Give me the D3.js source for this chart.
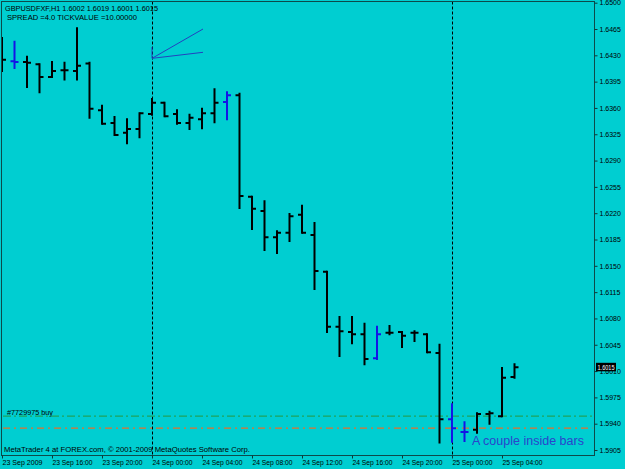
<!DOCTYPE html>
<html>
<head>
<meta charset="utf-8">
<script src="https://cdn.jsdelivr.net/npm/d3@7"></script>
<style>
  body { margin: 0; background: #00ced1; }
  text { font-family: "Liberation Sans", Arial, sans-serif; }
</style>
</head>
<body>
<div id="chart"></div>
<script>
// GBPUSD H1 bars, 23 Sep 12:00 .. 25 Sep 05:00
var openPrices  = [1.6426,1.6422,1.6421,1.6418,1.6401,1.6410,1.6409,1.6419,1.6357,1.6340,1.6327,1.6332,1.6352,1.6367,1.6352,1.6340,1.6345,1.6353,1.6368,1.6377,1.6242,1.6223,1.6188,1.6194,1.6218,1.6191,1.6142,1.6069,1.6062,1.6059,1.6027,1.6061,1.6062,1.6061,1.6059,1.6034,1.5946,1.5929,1.5932,1.5953,1.5950,1.6002];
var highPrices  = [1.6453,1.6448,1.6428,1.6418,1.6421,1.6420,1.6466,1.6420,1.6363,1.6348,1.6345,1.6353,1.6372,1.6367,1.6357,1.6351,1.6359,1.6385,1.6381,1.6379,1.6242,1.6236,1.6196,1.6219,1.6230,1.6207,1.6142,1.6082,1.6082,1.6073,1.6069,1.6070,1.6062,1.6063,1.6059,1.6045,1.5966,1.5942,1.5954,1.5956,1.6014,1.6019];
var lowPrices   = [1.6409,1.6413,1.6388,1.6381,1.6401,1.6398,1.6398,1.6347,1.6339,1.6324,1.6313,1.6321,1.6351,1.6349,1.6339,1.6332,1.6333,1.6341,1.6345,1.6227,1.6199,1.6171,1.6167,1.6183,1.6194,1.6119,1.6062,1.6030,1.6047,1.6019,1.6026,1.6059,1.6042,1.6050,1.6035,1.5915,1.5916,1.5917,1.5928,1.5940,1.5950,1.6001];
var closePrices = [1.6424,1.6421,1.6420,1.6401,1.6409,1.6410,1.6416,1.6359,1.6339,1.6324,1.6332,1.6353,1.6367,1.6349,1.6340,1.6347,1.6353,1.6367,1.6377,1.6243,1.6226,1.6188,1.6194,1.6216,1.6194,1.6143,1.6069,1.6063,1.6059,1.6026,1.6059,1.6061,1.6057,1.6061,1.6035,1.5946,1.5934,1.5929,1.5953,1.5954,1.6001,1.6015];
var insideBars  = [1, 18, 30, 36, 37];

var xTickIndex  = [0, 4, 8, 12, 16, 20, 24, 28, 32, 36, 40];
var xTickLabels = ["23 Sep 2009", "23 Sep 16:00", "23 Sep 20:00", "24 Sep 00:00", "24 Sep 04:00",
                   "24 Sep 08:00", "24 Sep 12:00", "24 Sep 16:00", "24 Sep 20:00", "25 Sep 00:00", "25 Sep 04:00"];
var yTicks = [1.5905,1.5940,1.5975,1.6010,1.6045,1.6080,1.6115,1.6150,1.6185,1.6220,1.6255,1.6290,1.6325,1.6360,1.6395,1.6430,1.6465,1.6500];

var daySeparators = [12, 36];
var buyLevel = 1.5950;
var stopLevel = 1.5934;
var lastPrice = 1.6015;
// fan object drawn on the chart: anchor + two rays
var fanAnchor = {i: 12, p: 1.6426, top: 1.6441};
var fanRays = [{i: 16.08, p: 1.6465}, {i: 16.08, p: 1.6434}];

var svgWidth = 625;
var svgHeight = 469;
var plot = {left: 1.5, top: 1.5, right: 594.5, bottom: 455.5};

var svg = d3.select("#chart")
    .append("svg")
    .attr("width", svgWidth)
    .attr("height", svgHeight)
    .style("display", "block");

svg.append("rect")
    .attr("width", svgWidth)
    .attr("height", svgHeight)
    .attr("fill", "#00ced1");

var x = d3.scaleLinear().domain([0, 47.36]).range([2, 594]);
var y = d3.scaleLinear().domain([1.5905, 1.6500]).range([450, 2.7]);

var bars = openPrices.map(function(o, i) {
    return {i: i, o: o, h: highPrices[i], l: lowPrices[i], c: closePrices[i], inside: insideBars.indexOf(i) >= 0};
});

svg.append("clipPath").attr("id", "plotclip")
    .append("rect")
    .attr("x", plot.left)
    .attr("y", plot.top)
    .attr("width", plot.right - plot.left)
    .attr("height", plot.bottom - plot.top);

var chartGroup = svg.append("g").attr("clip-path", "url(#plotclip)");

// day separators
chartGroup.selectAll(".sep")
    .data(daySeparators)
    .enter()
    .append("line")
    .attr("x1", d => Math.round(x(d)) + 0.5)
    .attr("x2", d => Math.round(x(d)) + 0.5)
    .attr("y1", plot.top)
    .attr("y2", plot.bottom)
    .attr("stroke", "#000")
    .attr("stroke-width", 1)
    .attr("stroke-dasharray", "3,2");

// order lines
chartGroup.append("line")
    .attr("x1", 3).attr("x2", plot.right - 2)
    .attr("y1", y(buyLevel)).attr("y2", y(buyLevel))
    .attr("stroke", "#1fa35c")
    .attr("stroke-width", 1.2)
    .attr("stroke-dasharray", "8,3,2,3");

chartGroup.append("line")
    .attr("x1", 3).attr("x2", plot.right - 2)
    .attr("y1", y(stopLevel)).attr("y2", y(stopLevel))
    .attr("stroke", "#e2702c")
    .attr("stroke-width", 1.2)
    .attr("stroke-dasharray", "7,4,2,4");

chartGroup.append("text")
    .attr("x", 7)
    .attr("y", 415)
    .attr("font-size", "8px")
    .attr("textLength", 46)
    .attr("lengthAdjust", "spacingAndGlyphs")
    .attr("fill", "#000")
    .text("#7729975 buy");

// fan
chartGroup.append("line")
    .attr("x1", x(fanAnchor.i)).attr("x2", x(fanAnchor.i))
    .attr("y1", y(fanAnchor.p)).attr("y2", y(fanAnchor.top))
    .attr("stroke", "#2242c0")
    .attr("stroke-width", 1);

chartGroup.selectAll(".ray")
    .data(fanRays)
    .enter()
    .append("line")
    .attr("x1", x(fanAnchor.i))
    .attr("y1", y(fanAnchor.p))
    .attr("x2", d => x(d.i))
    .attr("y2", d => y(d.p))
    .attr("stroke", "#2242c0")
    .attr("stroke-width", 1);

// OHLC bars
var barGroup = chartGroup.selectAll(".bar")
    .data(bars)
    .enter()
    .append("g")
    .attr("stroke", d => d.inside ? "#1414e6" : "#000")
    .attr("stroke-width", 2);

barGroup.append("line")
    .attr("x1", d => x(d.i)).attr("x2", d => x(d.i))
    .attr("y1", d => y(d.h) - 1).attr("y2", d => y(d.l) + 1);

barGroup.append("line")
    .attr("x1", d => x(d.i) - 4).attr("x2", d => x(d.i))
    .attr("y1", d => y(d.o)).attr("y2", d => y(d.o));

barGroup.append("line")
    .attr("x1", d => x(d.i)).attr("x2", d => x(d.i) + 4)
    .attr("y1", d => y(d.c)).attr("y2", d => y(d.c));

// header text
svg.append("text")
    .attr("x", 5).attr("y", 11)
    .attr("font-size", "8px")
    .attr("textLength", 153)
    .attr("lengthAdjust", "spacingAndGlyphs")
    .text("GBPUSDFXF,H1  1.6002 1.6019 1.6001 1.6015");

svg.append("text")
    .attr("x", 7).attr("y", 19.5)
    .attr("font-size", "8px")
    .attr("textLength", 130)
    .attr("lengthAdjust", "spacingAndGlyphs")
    .text("SPREAD =4.0 TICKVALUE =10.00000");

svg.append("text")
    .attr("x", 4).attr("y", 452)
    .attr("font-size", "8px")
    .attr("textLength", 246)
    .attr("lengthAdjust", "spacingAndGlyphs")
    .text("MetaTrader 4 at FOREX.com, \u00a9 2001-2009 MetaQuotes Software Corp.");

svg.append("text")
    .attr("x", 472).attr("y", 445)
    .attr("font-size", "12.5px")
    .attr("fill", "#2a44cc")
    .text("A couple inside bars");

// frame
svg.append("rect")
    .attr("x", plot.left).attr("y", plot.top)
    .attr("width", plot.right - plot.left)
    .attr("height", plot.bottom - plot.top)
    .attr("fill", "none")
    .attr("stroke", "#0d4a4a")
    .attr("stroke-width", 1);

// right price axis
var rightAxis = d3.axisRight(y)
    .tickValues(yTicks)
    .tickSize(3)
    .tickPadding(2)
    .tickFormat(d3.format(".4f"));

var yAxis = svg.append("g")
    .attr("transform", `translate(${plot.right}, 0)`)
    .call(rightAxis);

yAxis.select(".domain").remove();
yAxis.selectAll("line").attr("stroke", "#0d3a3a");
yAxis.selectAll("text")
    .attr("font-size", "7px")
    .attr("font-family", "Liberation Sans, Arial, sans-serif")
    .attr("fill", "#000");

// bottom time axis
var bottomAxis = d3.axisBottom(x)
    .tickValues(xTickIndex)
    .tickSize(3)
    .tickFormat((d, k) => xTickLabels[k]);

var xAxis = svg.append("g")
    .attr("transform", `translate(0, ${plot.bottom})`)
    .call(bottomAxis);

xAxis.select(".domain").remove();
xAxis.selectAll("line").attr("stroke", "#0d3a3a");
xAxis.selectAll("text")
    .attr("text-anchor", "start")
    .attr("x", 0)
    .attr("y", 9.5)
    .attr("dy", 0)
    .attr("font-size", "8px")
    .attr("textLength", 40)
    .attr("lengthAdjust", "spacingAndGlyphs")
    .attr("font-family", "Liberation Sans, Arial, sans-serif")
    .attr("fill", "#000");

// last price marker (covers most of the 1.6010 label, as in MT4)
var priceBox = svg.append("g")
    .attr("transform", `translate(596, ${y(lastPrice)})`);

priceBox.append("rect")
    .attr("x", 0).attr("y", -4.5)
    .attr("width", 20).attr("height", 8.5)
    .attr("fill", "#000");

priceBox.append("text")
    .attr("x", 1.5).attr("y", 2.6)
    .attr("font-size", "7px")
    .attr("textLength", 17)
    .attr("lengthAdjust", "spacingAndGlyphs")
    .attr("fill", "#fff")
    .text(d3.format(".4f")(lastPrice));
</script>
</body>
</html>
